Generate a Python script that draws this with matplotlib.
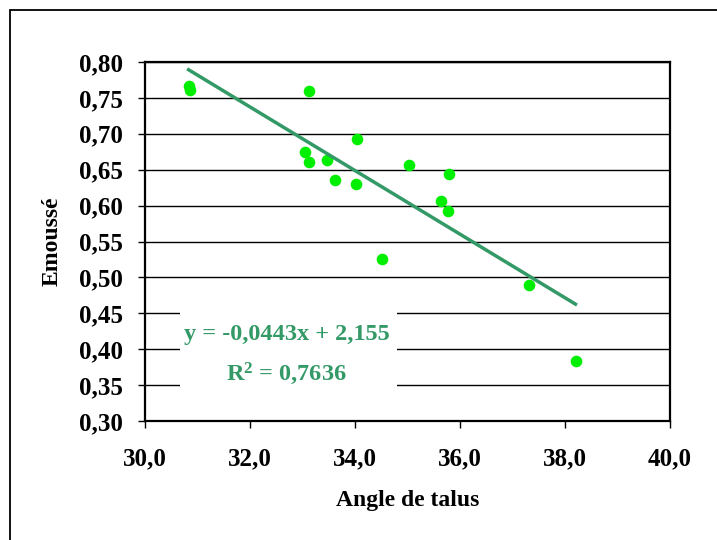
import matplotlib.pyplot as plt
import numpy as np
from matplotlib.patches import Rectangle

plt.rcParams['font.family'] = ['Liberation Serif', 'DejaVu Serif']
plt.rcParams['font.weight'] = 'bold'

# mesures : angle de talus / émoussé
angle = [30.83, 30.86, 33.12, 34.04, 33.05, 33.12, 33.47, 33.62,
         34.01, 35.02, 35.63, 35.77, 35.80, 34.51, 37.31, 38.20]
emousse = [0.767, 0.761, 0.759, 0.693, 0.675, 0.661, 0.664, 0.636,
           0.630, 0.657, 0.607, 0.593, 0.644, 0.525, 0.489, 0.384]

# régression linéaire (Excel)
pente, origine, r2 = -0.0443, 2.155, 0.7636

xticks = [30, 32, 34, 36, 38, 40]
yticks = [0.30, 0.35, 0.40, 0.45, 0.50, 0.55, 0.60, 0.65, 0.70, 0.75, 0.80]

fig = plt.figure(figsize=(7.17, 5.4), dpi=100)
ax = fig.add_axes([145/717, 1-421/540, 525/717, 359/540])

# cadre du graphique
fig.patches.append(Rectangle((10/717, -0.1), 1.2, 1-10/540+0.1, transform=fig.transFigure,
                             fill=False, edgecolor='black', linewidth=1.3))

ax.set_xlim(30, 40)
ax.set_ylim(0.30, 0.80)
ax.set_xticks(xticks)
ax.set_yticks(yticks)
ax.set_xticklabels([('%.1f' % v).replace('.', ',') for v in xticks])
ax.set_yticklabels([('%.2f' % v).replace('.', ',') for v in yticks])
ax.tick_params(direction='out', length=5, width=1, labelsize=18)
ax.tick_params(axis='x', pad=14)
ax.tick_params(axis='y', pad=11)
for lab in ax.get_xticklabels() + ax.get_yticklabels():
    lab.set_fontweight('bold')
for s in ax.spines.values():
    s.set_linewidth(1.6)

ax.yaxis.grid(True, color='black', linewidth=1)
ax.set_axisbelow(True)

ax.scatter(angle, emousse, s=70, color='#00ee00', zorder=3, linewidths=0)

xl = np.array([min(angle), max(angle)])
ax.plot(xl, pente*xl + origine, color='#339966', linewidth=2.5, zorder=4)

# étiquette de la courbe de tendance sur fond blanc
ax.add_patch(Rectangle((0.067, 0.086), 0.413, 0.229, transform=ax.transAxes,
                       facecolor='white', edgecolor='none', zorder=2))
ax.text(0.27, 0.183, 'y = -0,0443x + 2,155\n$\\mathregular{R^2}$ = 0,7636',
        transform=ax.transAxes, ha='center', va='center', fontsize=17.5,
        fontweight='bold', color='#339966', linespacing=1.8, zorder=5)

ax.set_xlabel('Angle de talus', fontsize=17, fontweight='bold', labelpad=14)
ax.set_ylabel('Emoussé', fontsize=17, fontweight='bold', labelpad=12)

fig.savefig('out.png', dpi=100)
